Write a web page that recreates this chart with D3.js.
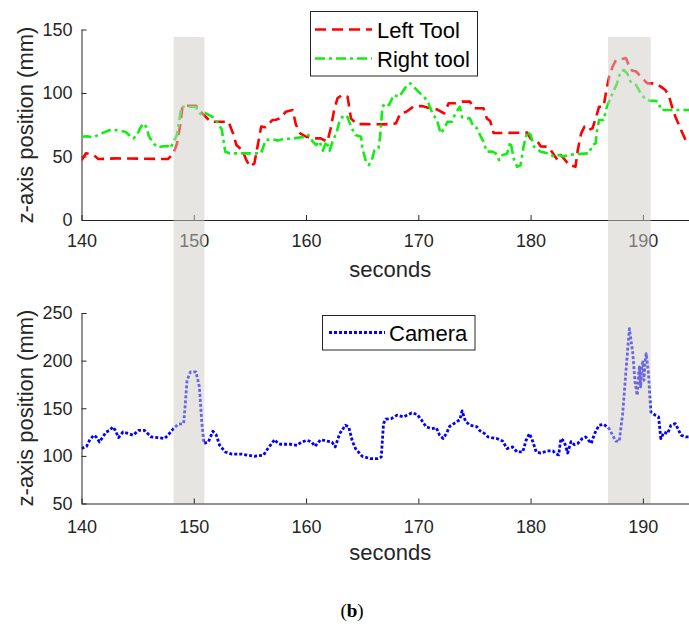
<!DOCTYPE html>
<html>
<head>
<meta charset="utf-8">
<script src="https://cdn.jsdelivr.net/npm/d3@7"></script>
<style>
  html, body { margin: 0; padding: 0; background: #fff; }
  svg { display: block; font-family: "Liberation Sans", Arial, Helvetica, sans-serif; }
</style>
</head>
<body>
<svg id="chart" width="689" height="626"></svg>
<script>
// Tool tracking (upper panel)
const leftToolTime = [140, 140.4, 140.7, 141.1, 141.5, 143.1, 147.7, 148.2, 148.5, 148.8, 149.0, 150.2, 150.5, 150.9, 151.5, 153.1, 153.5, 153.8, 154.3, 154.7, 155.0, 155.4, 155.7, 156.0, 156.4, 157.0, 157.3, 157.7, 158.2, 158.8, 159.1, 159.5, 160.0, 160.7, 161.3, 161.9, 162.2, 162.5, 162.8, 163.2, 163.7, 164.0, 164.5, 165.3, 166.9, 168.0, 168.4, 168.9, 169.6, 170.3, 170.8, 171.7, 172.3, 172.7, 173.3, 173.9, 174.6, 174.9, 175.8, 176.1, 176.4, 176.7, 177.0, 179.7, 180.0, 180.6, 180.9, 181.5, 181.8, 182.4, 182.7, 183.1, 183.4, 184.0, 184.2, 184.5, 184.8, 185.1, 185.5, 185.8, 186.1, 186.5, 186.7, 187.0, 187.3, 187.6, 188.5, 188.9, 189.4, 189.8, 190.4, 191.1, 191.6, 192.0, 192.3, 192.6, 192.9, 193.4, 193.8, 194.8];
const leftToolZ = [47, 52.5, 52, 51, 48, 48.5, 48, 52.5, 60, 75, 90, 90, 86, 82.7, 77.4, 77.4, 68, 59, 55, 47, 42, 44.6, 59, 73.5, 73, 78.7, 79, 80, 85.3, 86.6, 75, 68, 65.6, 64.3, 64.3, 61.7, 72.2, 86.6, 95.8, 98.5, 97, 80, 75.5, 75.5, 75.3, 76, 84, 85, 89.5, 89.8, 88.5, 87, 84, 91.9, 91.9, 93.2, 93.2, 88, 88, 80, 78, 68.5, 68.5, 68.8, 64, 62, 58, 57.7, 55, 47.2, 51.2, 47, 43.3, 42, 55, 68.2, 73.5, 70.9, 72, 80, 89.2, 89.2, 99.7, 112.9, 120.7, 126, 127.3, 118.1, 117, 112.9, 107.6, 107.6, 105, 102.4, 98.4, 89, 81.3, 70.9, 63, 60];

const rightToolTime = [140, 140.5, 141, 141.5, 142, 142.7, 143.5, 143.9, 144.6, 144.9, 145.2, 145.5, 145.8, 146.0, 146.4, 146.8, 147.3, 147.7, 147.9, 148.2, 148.5, 148.7, 148.9, 149.5, 150.2, 150.4, 150.7, 151.0, 151.3, 151.7, 152.2, 152.5, 152.8, 153.2, 156.0, 156.4, 157.0, 157.5, 158.0, 158.5, 159.0, 160.1, 160.2, 160.6, 160.9, 161.2, 161.5, 161.8, 162.1, 162.4, 162.7, 163.0, 163.4, 163.7, 164.0, 164.4, 164.9, 165.0, 165.3, 165.6, 165.9, 166.1, 166.45, 166.6, 166.8, 167.1, 167.4, 167.8, 168.3, 168.6, 169.0, 169.3, 169.6, 170.0, 170.5, 170.9, 171.2, 171.7, 172.0, 172.3, 172.6, 173.0, 173.3, 173.7, 173.9, 174.4, 174.6, 174.9, 175.2, 175.5, 175.8, 176.1, 176.6, 176.9, 177.2, 177.5, 177.9, 178.2, 178.5, 178.8, 179.1, 179.4, 179.7, 180.0, 180.3, 180.9, 181.6, 182.1, 182.5, 183.0, 183.3, 184.2, 185.2, 185.5, 185.8, 185.9, 186.1, 186.5, 186.8, 187.3, 187.7, 188.0, 188.3, 188.6, 188.9, 189.4, 189.8, 190.3, 190.7, 191.1, 191.4, 191.6, 194.8];
const rightToolZ = [65.6, 66, 65, 67, 69, 71.4, 70, 69.5, 64.3, 66, 72, 76.1, 73, 66, 60.4, 57.2, 58, 58.3, 56.4, 61.6, 66.9, 78, 89.2, 89.2, 89, 85, 82.7, 84.4, 83, 81, 76, 70.9, 53.8, 52.5, 52.5, 63, 63.5, 62.5, 64, 64, 64.5, 65.6, 67, 61.7, 59, 62, 54.6, 62, 54.6, 62.9, 68.2, 78.7, 82.7, 81, 73.5, 66.9, 65.6, 57.4, 47.2, 43.3, 48.5, 55, 56.4, 65.6, 89.2, 92, 90.5, 98.4, 97, 101, 106.3, 107.6, 104.9, 101, 97.1, 91.9, 85.3, 77.4, 68.2, 72, 77.4, 77.4, 83.9, 89.2, 81, 80, 80, 73.5, 72.5, 66.9, 61.7, 53.8, 53.8, 52.5, 47.2, 51.2, 52, 61.7, 48.5, 42, 43, 59, 69.5, 66.9, 57.7, 53.8, 52.5, 49.8, 51.2, 50, 51.2, 52, 52.5, 59, 60.4, 69.5, 78.7, 78.7, 89.2, 99.7, 107.6, 116.8, 118.1, 115.5, 109, 106.3, 99.7, 94.5, 93.8, 93.8, 93, 86.6, 86.6];

// Camera tracking (lower panel)
const cameraTime = [140, 140.45, 140.75, 141.1, 141.3, 141.6, 141.9, 142.2, 142.5, 142.8, 143.0, 143.3, 143.7, 144.2, 144.6, 145.1, 145.6, 145.9, 146.2, 146.8, 147.4, 147.7, 148.2, 148.6, 149.1, 149.2, 149.4, 149.7, 150.2, 150.5, 150.7, 150.9, 151.3, 151.7, 152.0, 152.3, 152.8, 153.4, 154.3, 154.8, 155.4, 156.2, 156.6, 157.2, 157.5, 157.7, 158.6, 159.2, 159.6, 160.1, 160.5, 160.8, 161.3, 161.8, 162.3, 162.6, 163.0, 163.5, 163.8, 164.1, 164.4, 165.0, 165.7, 166.4, 166.7, 166.9, 167.1, 167.6, 168.1, 168.7, 169.4, 169.9, 170.3, 170.7, 171.2, 171.6, 171.9, 172.2, 172.5, 172.8, 173.4, 173.7, 173.9, 174.2, 174.6, 175.2, 175.5, 175.9, 176.2, 176.5, 177.0, 177.5, 177.9, 178.4, 178.8, 179.3, 179.6, 179.9, 180.2, 180.5, 180.9, 181.5, 182.0, 182.2, 182.5, 182.7, 183.0, 183.3, 183.6, 183.9, 184.2, 184.6, 184.9, 185.4, 185.7, 186.1, 186.5, 187.0, 187.3, 187.6, 187.9, 188.2, 188.5, 188.8, 189.1, 189.3, 189.5, 189.6, 189.7, 189.8, 189.9, 190.0, 190.1, 190.2, 190.3, 190.5, 190.7, 191.1, 191.4, 191.6, 191.9, 192.2, 192.5, 192.9, 193.4, 193.8, 194.8];
const cameraZ = [107.7, 110, 117.1, 121.7, 120, 114.6, 119.9, 125.1, 126.8, 130.4, 127, 119.2, 125.1, 123.4, 121.7, 126.8, 126.8, 123.4, 119.9, 119.2, 118.3, 121.7, 128.7, 133.2, 133.9, 147.9, 179.4, 188.1, 188.1, 172.4, 137.4, 113, 114.6, 125.8, 122, 111.2, 104.1, 101.8, 101.8, 100.7, 99.6, 100.7, 107.7, 117.1, 113, 112.2, 112.2, 111.1, 114.6, 116.3, 114.6, 110, 117, 115.7, 114.5, 109.4, 123.4, 132.2, 130.5, 116.3, 107.7, 99.6, 97.2, 97.2, 98.8, 133.9, 138.5, 139.2, 142.7, 141, 145.1, 143.5, 137.4, 130.4, 128.7, 129.5, 121.7, 118.2, 123.4, 131.1, 135.6, 138, 147.2, 136.3, 132.2, 130.7, 126.2, 123.4, 120, 119.2, 118.2, 115.7, 107.7, 109.4, 104.1, 104.1, 116.4, 123.4, 115, 104.1, 103, 105.2, 105.2, 102.5, 101, 118.2, 115, 103, 115, 111.7, 113, 118.2, 119.9, 113, 123.4, 132.2, 133.2, 128.7, 121.7, 115.4, 115.4, 144.4, 189.9, 233.6, 208, 177.6, 163.6, 185, 193.3, 172.4, 195, 198.6, 179.4, 200, 207.4, 186.4, 146.1, 142.7, 141, 118.2, 124.9, 123.4, 132.2, 133.9, 121.7, 120, 120];

// Highlighted intervals (seconds)
const highlightStart = [148.2, 186.9];
const highlightEnd = [150.95, 190.7];

const xTicks = [140, 150, 160, 170, 180, 190];
const topYTicks = [0, 50, 100, 150];
const bottomYTicks = [50, 100, 150, 200, 250];

const axisColor = "#262626";
const svg = d3.select("#chart");

const x = d3.scaleLinear().domain([140, 195]).range([81.5, 699]);
const yTop = d3.scaleLinear().domain([0, 150]).range([220, 29.5]);
const yBot = d3.scaleLinear().domain([50, 250]).range([503.5, 313]);

const zip = (ts, vs) => ts.map((t, i) => [t, vs[i]]);

svg.append("defs").append("clipPath").attr("id", "plotClip")
  .append("rect").attr("x", x(140)).attr("y", 0).attr("width", x(195) - x(140)).attr("height", 626);

function drawAxes(y, ticks, xLabelY, tickLabelY, yLabelCenter) {
  // x axis
  const gx = svg.append("g").attr("transform", `translate(0,${y.range()[0]})`)
    .call(d3.axisBottom(x).tickValues(xTicks).tickSizeInner(-5).tickSizeOuter(0).tickPadding(0).tickFormat(d3.format("d")));
  gx.select(".domain").attr("stroke", axisColor);
  gx.selectAll(".tick line").attr("stroke", axisColor);
  gx.selectAll(".tick text").attr("fill", axisColor).attr("font-size", 18)
    .attr("font-family", "Liberation Sans, Arial, sans-serif")
    .attr("dy", null).attr("y", tickLabelY - y.range()[0]);
  // y axis
  const gy = svg.append("g").attr("transform", `translate(${x(140)},0)`)
    .call(d3.axisLeft(y).tickValues(ticks).tickSizeInner(-5).tickSizeOuter(0).tickPadding(9).tickFormat(d3.format("d")));
  gy.select(".domain").attr("stroke", axisColor);
  gy.selectAll(".tick line").attr("stroke", axisColor);
  gy.selectAll(".tick text").attr("fill", axisColor).attr("font-size", 18)
    .attr("font-family", "Liberation Sans, Arial, sans-serif");
  // axis titles
  svg.append("text").attr("x", (x.range()[0] + x.range()[1]) / 2).attr("y", xLabelY)
    .attr("text-anchor", "middle").attr("font-size", 22).attr("fill", axisColor).text("seconds");
  svg.append("text").attr("transform", `translate(33,${yLabelCenter}) rotate(-90)`)
    .attr("text-anchor", "middle").attr("font-size", 22).attr("fill", axisColor).text("z-axis position (mm)");
}

function drawLine(data, y, color, dash, width) {
  svg.append("path").datum(data)
    .attr("clip-path", "url(#plotClip)")
    .attr("fill", "none").attr("stroke", color).attr("stroke-width", width)
    .attr("stroke-dasharray", dash).attr("stroke-linejoin", "round")
    .attr("d", d3.line().x(d => x(d[0])).y(d => y(d[1])));
}

// Upper panel
drawAxes(yTop, topYTicks, 277, 247, 125);
drawLine(zip(leftToolTime, leftToolZ), yTop, "#ff0000", "11,6", 2.6);
drawLine(zip(rightToolTime, rightToolZ), yTop, "#12ee12", "10,4,3,4", 2.6);

// Lower panel lines
drawLine(zip(cameraTime, cameraZ), yBot, "#0000ff", "3,2", 2.8);

// Highlight bands spanning both panels
svg.append("g").selectAll("rect").data(highlightStart).join("rect")
  .attr("x", d => x(d)).attr("width", (d, i) => x(highlightEnd[i]) - x(d))
  .attr("y", 37).attr("height", yBot.range()[0] - 37)
  .attr("fill", "#cfccc6").attr("fill-opacity", 0.5);

// Lower panel axes drawn above the bands
drawAxes(yBot, bottomYTicks, 560, 533, 408);

// Legends
function legend(x0, y0, w, h, items) {
  const g = svg.append("g");
  g.append("rect").attr("x", x0).attr("y", y0).attr("width", w).attr("height", h)
    .attr("fill", "#fff").attr("stroke", axisColor).attr("stroke-width", 1);
  items.forEach(it => {
    g.append("line").attr("x1", it.x1).attr("x2", it.x2).attr("y1", it.y).attr("y2", it.y)
      .attr("stroke", it.color).attr("stroke-width", it.width).attr("stroke-dasharray", it.dash);
    g.append("text").attr("x", it.tx).attr("y", it.y + 8).attr("font-size", 22)
      .attr("fill", "#000").text(it.label);
  });
}
legend(310.5, 11.5, 167, 64.5, [
  { label: "Left Tool", color: "#ff0000", dash: "11,6", width: 2.6, x1: 315, x2: 372, y: 29.5, tx: 377 },
  { label: "Right tool", color: "#12ee12", dash: "10,4,3,4", width: 2.6, x1: 315, x2: 372, y: 58.5, tx: 377 }
]);
legend(322.5, 315.5, 152.5, 34.5, [
  { label: "Camera", color: "#0000ff", dash: "3,2", width: 2.8, x1: 329, x2: 385, y: 332.5, tx: 389 }
]);

// Panel caption
const cap = svg.append("text").attr("x", 352).attr("y", 617).attr("text-anchor", "middle")
  .attr("font-family", "Liberation Serif, Times New Roman, serif").attr("font-size", 19).attr("fill", "#000");
cap.append("tspan").text("(");
cap.append("tspan").attr("font-weight", "bold").text("b");
cap.append("tspan").text(")");
</script>
</body>
</html>
